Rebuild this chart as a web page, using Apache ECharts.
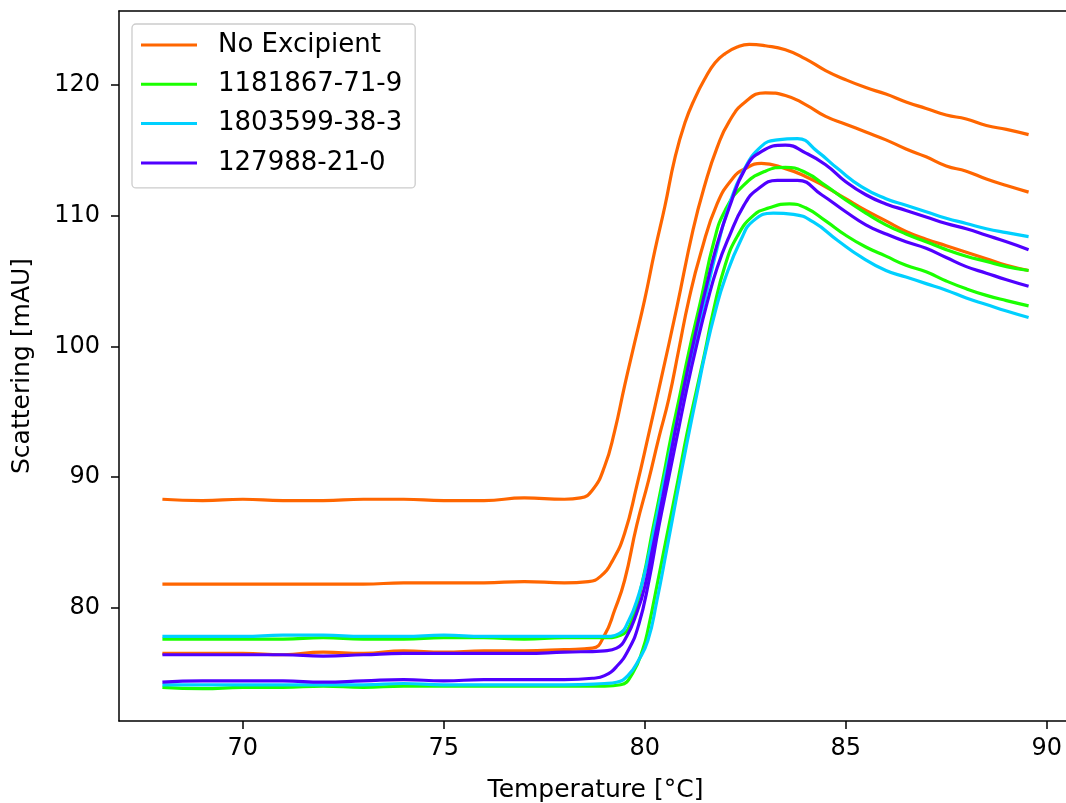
<!DOCTYPE html>
<html>
<head>
<meta charset="utf-8">
<script src="https://cdn.jsdelivr.net/npm/echarts@6/dist/echarts.min.js"></script>
<style>
html,body{margin:0;padding:0;background:#fff;overflow:hidden;}
#chart{width:1066px;height:803px;}
</style>
</head>
<body>
<div id="chart"></div>
<script>
// Series names (legend)
const seriesNames = ['No Excipient', '1181867-71-9', '1803599-38-3', '127988-21-0'];
const seriesColors = ['#ff6600', '#1bff00', '#00d0ff', '#5000ff'];

// Axis ticks
const xTicks = [70, 75, 80, 85, 90];
const yTicks = [80, 90, 100, 110, 120];

// No Excipient, replicate 1 (highest)
const noExcipient1 = [[68,88.3],[69,88.2],[70,88.3],[71,88.2],[72,88.2],[73,88.3],[74,88.3],[75,88.2],[76,88.2],[77,88.4],[78,88.3],[78.4,88.4],[78.7,89.0],[79,90.8],[79.25,93.5],[79.5,97.0],[79.75,100.3],[80,103.6],[80.25,107.3],[80.5,110.7],[80.75,114.4],[81,117.1],[81.25,119.0],[81.5,120.5],[81.75,121.7],[82,122.4],[82.3,122.9],[82.6,123.1],[83,123.0],[83.5,122.7],[84,122.0],[84.5,121.1],[85,120.4],[85.5,119.8],[86,119.3],[86.5,118.7],[87,118.2],[87.5,117.7],[88,117.4],[88.5,116.9],[89,116.6],[89.55,116.2]];
// No Excipient, replicate 2
const noExcipient2 = [[68,81.8],[69,81.8],[70,81.8],[71,81.8],[72,81.8],[73,81.8],[74,81.9],[75,81.9],[76,81.9],[77,82.0],[78,81.9],[78.6,82.0],[78.9,82.4],[79.2,83.6],[79.5,85.7],[79.8,89.3],[80.1,93.3],[80.4,97.4],[80.8,103.0],[81.2,108.9],[81.5,112.4],[81.8,115.2],[82.1,117.2],[82.5,118.7],[83,119.4],[83.5,119.2],[84,118.5],[84.5,117.6],[85,117.0],[85.5,116.4],[86,115.8],[86.5,115.1],[87,114.5],[87.5,113.8],[88,113.4],[88.5,112.8],[89,112.3],[89.55,111.8]];
// No Excipient, replicate 3
const noExcipient3 = [[68,76.5],[69,76.5],[70,76.5],[71,76.4],[72,76.6],[73,76.5],[74,76.7],[75,76.6],[76,76.7],[77,76.7],[78,76.8],[78.7,76.9],[79.0,77.9],[79.25,79.8],[79.5,82.1],[79.8,86.3],[80.1,89.8],[80.35,93.0],[80.6,96.0],[80.85,99.8],[81.1,103.6],[81.4,107.2],[81.8,110.9],[82.2,112.9],[82.5,113.6],[82.9,114.0],[83.5,113.6],[84,113.0],[84.5,112.2],[85,111.3],[85.5,110.4],[86,109.6],[86.5,108.8],[87,108.2],[87.5,107.7],[88,107.2],[88.5,106.7],[89,106.2],[89.55,105.8]];

// 1181867-71-9, replicate 1
const cas1181867a = [[68,77.6],[69,77.6],[70,77.6],[71,77.6],[72,77.7],[73,77.6],[74,77.6],[75,77.7],[76,77.7],[77,77.6],[78,77.7],[79,77.7],[79.4,77.9],[79.65,78.8],[79.95,82.1],[80.2,86.0],[80.45,89.8],[80.65,93.0],[80.85,95.9],[81.1,99.6],[81.4,103.6],[81.72,108.0],[82.0,110.4],[82.45,112.3],[83.0,113.4],[83.5,113.7],[84,113.3],[84.5,112.3],[85,111.2],[85.5,110.2],[86,109.3],[86.5,108.6],[87,108.0],[87.5,107.4],[88,106.9],[88.5,106.5],[89,106.1],[89.55,105.8]];
// 1181867-71-9, replicate 2
const cas1181867b = [[68,73.9],[69,73.8],[70,73.9],[71,73.9],[72,74.0],[73,73.9],[74,74.0],[75,74.0],[76,74.0],[77,74.0],[78,74.0],[79,74.0],[79.4,74.1],[79.7,75.0],[79.95,76.8],[80.1,78.6],[80.33,82.1],[80.55,85.5],[80.83,89.8],[81.05,93.3],[81.3,96.8],[81.5,99.6],[81.7,102.6],[82.0,106.2],[82.3,108.4],[82.7,110.0],[83.1,110.6],[83.6,110.9],[84,110.6],[84.5,109.6],[85,108.5],[85.5,107.6],[86,106.9],[86.5,106.2],[87,105.7],[87.5,105.0],[88,104.4],[88.5,103.9],[89,103.5],[89.55,103.1]];

// 1803599-38-3, replicate 1
const cas1803599a = [[68,77.8],[69,77.8],[70,77.8],[71,77.9],[72,77.9],[73,77.8],[74,77.8],[75,77.9],[76,77.8],[77,77.8],[78,77.8],[79,77.8],[79.35,78.0],[79.6,79.0],[79.85,81.0],[80.05,83.3],[80.3,87.0],[80.5,90.0],[80.75,93.6],[81.0,97.0],[81.2,99.6],[81.5,103.6],[81.8,107.5],[82.1,110.8],[82.45,113.4],[82.9,115.3],[83.3,115.8],[83.8,115.9],[84.3,114.9],[84.8,113.6],[85.4,112.2],[86,111.3],[86.5,110.8],[87,110.3],[87.5,109.8],[88,109.4],[88.5,109.0],[89,108.7],[89.55,108.4]];
// 1803599-38-3, replicate 2
const cas1803599b = [[68,74.1],[69,74.1],[70,74.1],[71,74.1],[72,74.1],[73,74.1],[74,74.2],[75,74.1],[76,74.1],[77,74.1],[78,74.1],[79,74.2],[79.3,74.3],[79.58,74.8],[79.85,76.0],[80.08,77.5],[80.3,80.5],[80.55,84.5],[80.8,88.6],[81.05,92.6],[81.3,96.4],[81.5,99.4],[81.75,102.6],[82.0,105.2],[82.4,108.2],[82.7,109.6],[83.2,110.2],[83.7,110.1],[84.2,109.5],[84.8,108.1],[85.4,106.8],[86,105.8],[86.5,105.3],[87,104.8],[87.5,104.3],[88,103.7],[88.5,103.2],[89,102.7],[89.55,102.2]];

// 127988-21-0, replicate 1
const cas127988a = [[68,76.4],[69,76.4],[70,76.4],[71,76.4],[72,76.3],[73,76.4],[74,76.5],[75,76.5],[76,76.5],[77,76.5],[78,76.6],[79,76.7],[79.3,76.9],[79.55,77.8],[79.8,79.6],[80.0,81.6],[80.2,84.6],[80.45,88.5],[80.65,91.8],[80.85,95.0],[81.05,98.0],[81.3,101.5],[81.55,104.8],[81.8,107.8],[82.1,110.6],[82.5,113.6],[82.9,114.9],[83.5,115.4],[84,114.8],[84.5,113.9],[85,112.6],[85.5,111.6],[86,110.9],[86.5,110.4],[87,109.9],[87.5,109.4],[88,109.0],[88.5,108.5],[89,108.0],[89.55,107.4]];
// 127988-21-0, replicate 2
const cas127988b = [[68,74.3],[69,74.4],[70,74.4],[71,74.4],[72,74.3],[73,74.4],[74,74.5],[75,74.4],[76,74.5],[77,74.5],[78,74.5],[78.7,74.6],[79.0,74.8],[79.3,75.5],[79.6,76.8],[79.85,78.7],[80.1,82.0],[80.35,86.2],[80.6,90.0],[80.85,93.8],[81.05,96.8],[81.3,100.2],[81.55,103.3],[81.8,106.0],[82.1,108.4],[82.47,110.8],[82.8,112.0],[83.3,112.7],[83.8,112.7],[84.4,111.6],[85,110.3],[85.5,109.3],[86,108.6],[86.5,108.0],[87,107.5],[87.5,106.8],[88,106.1],[88.5,105.6],[89,105.1],[89.55,104.6]];

const groups = [
  [noExcipient1, noExcipient2, noExcipient3],
  [cas1181867a, cas1181867b],
  [cas1803599a, cas1803599b],
  [cas127988a, cas127988b]
];

const series = [];
groups.forEach((g, gi) => {
  g.forEach(d => {
    series.push({
      name: seriesNames[gi],
      type: 'line',
      data: d,
      xAxisIndex: 0,
      showSymbol: false,
      smooth: 0.5,
      color: seriesColors[gi],
      lineStyle: { width: 3.2, color: seriesColors[gi] },
      emphasis: { disabled: true },
      animation: false
    });
  });
});

const font = 'DejaVu Sans';
const chart = echarts.init(document.getElementById('chart'), null, { renderer: 'canvas' });
chart.setOption({
  backgroundColor: '#ffffff',
  animation: false,
  grid: {
    left: 119, top: 11, width: 953, height: 710,
    show: false,
    containLabel: false,
    outerBoundsMode: 'none'
  },
  legend: {
    data: seriesNames,
    orient: 'vertical',
    left: 132, top: 24,
    padding: [8, 13, 12, 9],
    itemWidth: 56, itemHeight: 3,
    itemGap: 13.3,
    icon: 'rect',
    backgroundColor: 'rgba(255,255,255,0.8)',
    borderColor: '#cccccc', borderWidth: 1.3, borderRadius: 4,
    textStyle: { fontFamily: font, fontSize: 26, color: '#000', lineHeight: 26, padding: [0, 0, 0, 16] },
    selectedMode: false
  },
  xAxis: [{
    type: 'value',
    min: 66.92, max: 90.63,
    name: 'Temperature [°C]',
    nameLocation: 'middle',
    nameGap: 57,
    nameTextStyle: { fontFamily: font, fontSize: 25, color: '#000' },
    axisLine: { show: true, onZero: false, lineStyle: { color: '#000', width: 1.5 } },
    axisTick: { show: true, inside: false, length: 8, customValues: xTicks, lineStyle: { color: '#000', width: 1.5 } },
    axisLabel: { customValues: xTicks, fontFamily: font, fontSize: 24, color: '#000', margin: 16 },
    splitLine: { show: false }
  }, {
    type: 'value',
    position: 'top',
    min: 66.92, max: 90.63,
    axisLine: { show: true, onZero: false, lineStyle: { color: '#000', width: 1.5 } },
    axisTick: { show: false },
    axisLabel: { show: false },
    splitLine: { show: false }
  }],
  yAxis: {
    type: 'value',
    min: 71.33, max: 125.66,
    name: 'Scattering [mAU]',
    nameLocation: 'middle',
    nameGap: 84,
    nameRotate: 90,
    nameTextStyle: { fontFamily: font, fontSize: 25, color: '#000' },
    axisLine: { show: true, onZero: false, lineStyle: { color: '#000', width: 1.5 } },
    axisTick: { show: true, inside: false, length: 8, customValues: yTicks, lineStyle: { color: '#000', width: 1.5 } },
    axisLabel: { customValues: yTicks, fontFamily: font, fontSize: 24, color: '#000', margin: 19 },
    splitLine: { show: false }
  },
  series: series
});
</script>
</body>
</html>
